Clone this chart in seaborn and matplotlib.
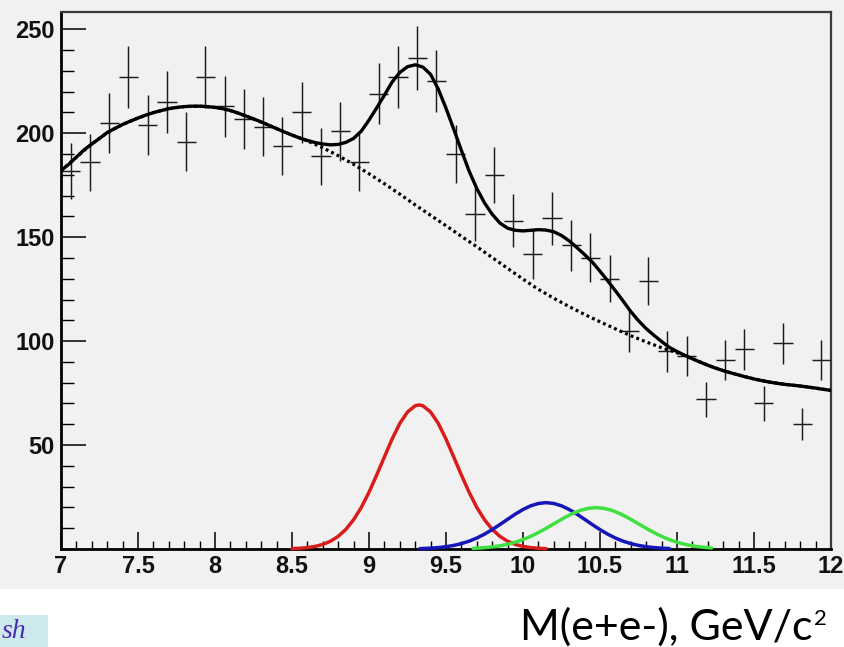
import numpy as np
import matplotlib
matplotlib.use("Agg")
import matplotlib.pyplot as plt
from matplotlib.patches import Rectangle
from matplotlib.ticker import MultipleLocator, FixedLocator
import seaborn as sns

# ---------------- data ----------------
bin_centers = [7.0625, 7.1875, 7.3125, 7.4375, 7.5625, 7.6875, 7.8125, 7.9375,
               8.0625, 8.1875, 8.3125, 8.4375, 8.5625, 8.6875, 8.8125, 8.9375,
               9.0625, 9.1875, 9.3125, 9.4375, 9.5625, 9.6875, 9.8125, 9.9375,
               10.0625, 10.1875, 10.3125, 10.4375, 10.5625, 10.6875, 10.8125, 10.9375,
               11.0625, 11.1875, 11.3125, 11.4375, 11.5625, 11.6875, 11.8125, 11.9375]
counts = [182, 186, 205, 227, 204, 215, 196, 227, 213, 207,
          203, 194, 210, 189, 201, 186, 219, 227, 236, 225,
          190, 161, 180, 158, 142, 159, 146, 140, 130, 105,
          129, 95, 93, 72, 91, 96, 70, 99, 60, 91]
count_err = [13.5, 13.6, 14.3, 15.1, 14.3, 14.7, 14.0, 15.1, 14.6, 14.4,
             14.2, 13.9, 14.5, 13.7, 14.2, 13.6, 14.8, 15.1, 15.4, 15.0,
             13.8, 12.7, 13.4, 12.6, 11.9, 12.6, 12.1, 11.8, 11.4, 10.2,
             11.4, 9.7, 9.6, 8.5, 9.5, 9.8, 8.4, 9.9, 7.7, 9.5]
bin_half_width = 0.0625

total_x = [7.00, 7.05, 7.10, 7.15, 7.20, 7.25, 7.30, 7.35, 7.40, 7.45,
           7.50, 7.55, 7.60, 7.65, 7.70, 7.75, 7.80, 7.85, 7.90, 7.95,
           8.00, 8.05, 8.10, 8.15, 8.20, 8.25, 8.30, 8.35, 8.40, 8.45,
           8.50, 8.55, 8.60, 8.65, 8.70, 8.75, 8.80, 8.85, 8.90, 8.95,
           9.00, 9.05, 9.10, 9.15, 9.20, 9.25, 9.30, 9.35, 9.40, 9.45,
           9.50, 9.55, 9.60, 9.65, 9.70, 9.75, 9.80, 9.85, 9.90, 9.95,
           10.00, 10.05, 10.10, 10.15, 10.20, 10.25, 10.30, 10.35, 10.40, 10.45,
           10.50, 10.55, 10.60, 10.65, 10.70, 10.75, 10.80, 10.85, 10.90, 10.95,
           11.00, 11.05, 11.10, 11.15, 11.20, 11.25, 11.30, 11.35, 11.40, 11.45,
           11.50, 11.55, 11.60, 11.65, 11.70, 11.75, 11.80, 11.85, 11.90, 11.95, 12.00]
total_y = [182.0, 185.0, 188.5, 192.0, 194.8, 197.5, 200.3, 202.3, 204.2, 205.8,
           207.3, 208.7, 209.9, 210.9, 211.8, 212.4, 212.8, 213.0, 213.0, 212.8,
           212.4, 211.8, 210.9, 209.7, 208.3, 206.9, 205.4, 203.8, 202.2, 200.6,
           199.1, 197.7, 196.5, 195.5, 194.8, 194.4, 194.6, 195.6, 197.5, 201.0,
           206.3, 212.2, 218.3, 224.6, 229.2, 232.0, 232.9, 231.8, 228.3, 221.2,
           212.0, 202.0, 191.7, 181.8, 173.4, 166.5, 161.0, 156.8, 154.3, 153.3,
           153.0, 153.3, 153.6, 153.4, 152.6, 150.8, 148.2, 145.0, 141.6, 138.0,
           133.6, 129.0, 124.2, 119.3, 114.2, 109.8, 106.0, 102.8, 99.8, 97.0,
           95.0, 93.2, 91.5, 89.9, 88.4, 87.0, 85.8, 84.7, 83.7, 82.7,
           81.8, 81.0, 80.3, 79.7, 79.2, 78.8, 78.4, 77.9, 77.4, 76.8, 76.3]

bkg_x = [7.0, 7.1, 7.2, 7.3, 7.4, 7.5, 7.6, 7.7, 7.8, 7.9,
         8.0, 8.1, 8.2, 8.3, 8.4, 8.5, 8.6, 8.7, 8.8, 8.9,
         9.0, 9.1, 9.2, 9.3, 9.4, 9.5, 9.6, 9.7, 9.8, 9.9,
         10.0, 10.1, 10.2, 10.3, 10.4, 10.5, 10.6, 10.7, 10.8, 10.9,
         11.0, 11.1, 11.2, 11.3, 11.4, 11.5, 11.6, 11.7, 11.8, 11.9, 12.0]
bkg_y = [182.0, 188.5, 194.8, 200.3, 204.2, 207.3, 209.9, 211.8, 212.8, 213.0,
         212.4, 210.9, 208.3, 205.4, 202.2, 199.1, 196.3, 193.0, 189.2, 185.0,
         180.5, 175.7, 170.7, 165.5, 160.5, 155.5, 150.4, 145.4, 140.2, 135.0,
         129.8, 124.9, 120.6, 116.6, 112.8, 109.3, 105.9, 102.6, 99.6, 96.8,
         94.4, 91.5, 88.4, 85.8, 83.7, 81.8, 80.3, 79.2, 78.4, 77.4, 76.3]

red_x = [8.50, 8.55, 8.60, 8.65, 8.70, 8.75, 8.80, 8.85, 8.90, 8.95,
         9.00, 9.05, 9.10, 9.15, 9.20, 9.25, 9.30, 9.325, 9.35, 9.40,
         9.45, 9.50, 9.55, 9.60, 9.65, 9.70, 9.75, 9.80, 9.85, 9.90,
         9.95, 10.00, 10.05, 10.10, 10.15]
red_y = [0.17, 0.35, 0.67, 1.24, 2.20, 3.74, 6.08, 9.47, 14.1, 20.0,
         27.3, 35.6, 44.3, 52.9, 60.4, 65.9, 68.9, 69.3, 68.9, 65.9,
         60.4, 52.9, 44.3, 35.6, 27.3, 20.0, 14.1, 9.47, 6.08, 3.74,
         2.20, 1.24, 0.67, 0.35, 0.17]

blue_x = [9.33, 9.35, 9.40, 9.45, 9.50, 9.55, 9.60, 9.65, 9.70, 9.75, 9.80,
          9.85, 9.90, 9.95, 10.00, 10.05, 10.10, 10.15, 10.20, 10.25, 10.30,
          10.35, 10.40, 10.45, 10.50, 10.55, 10.60, 10.65, 10.70, 10.75, 10.80,
          10.85, 10.90, 10.95]
blue_y = [0.19, 0.23, 0.41, 0.68, 1.10, 1.72, 2.59, 3.76, 5.27, 7.14, 9.32,
          11.75, 14.29, 16.77, 19.0, 20.77, 21.9, 22.3, 21.9, 20.77, 19.0,
          16.77, 14.29, 11.75, 9.32, 7.14, 5.27, 3.76, 2.59, 1.72, 1.10,
          0.68, 0.41, 0.23]

green_x = [9.675, 9.725, 9.775, 9.825, 9.875, 9.925, 9.975, 10.025, 10.075, 10.125,
           10.175, 10.225, 10.275, 10.325, 10.375, 10.425, 10.475, 10.525, 10.575,
           10.625, 10.675, 10.725, 10.775, 10.825, 10.875, 10.925, 10.975, 11.025,
           11.075, 11.125, 11.175, 11.225]
green_y = [0.30, 0.50, 0.80, 1.24, 1.87, 2.73, 3.86, 5.27, 6.96, 8.91,
           11.02, 13.20, 15.30, 17.17, 18.64, 19.58, 19.9, 19.58, 18.64,
           17.17, 15.30, 13.20, 11.02, 8.91, 6.96, 5.27, 3.86, 2.73,
           1.87, 1.24, 0.80, 0.50]

x_major = [7, 7.5, 8, 8.5, 9, 9.5, 10, 10.5, 11, 11.5, 12]
x_labels = ["7", "7.5", "8", "8.5", "9", "9.5", "10", "10.5", "11", "11.5", "12"]
y_major = [50, 100, 150, 200, 250]
y_labels = ["50", "100", "150", "200", "250"]
axis_title = "M(e+e-), GeV/c"
axis_title_sup = "2"
logo_text = "sh"

# ---------------- figure ----------------
sns.set_style("ticks")
plt.rcParams["font.family"] = ["Liberation Sans", "DejaVu Sans"]

W, H = 845, 647
fig = plt.figure(figsize=(W / 100, H / 100), dpi=100)
fig.patch.set_facecolor("white")
panel_bg = "#f1f1f1"
fig.patches.append(Rectangle((0, 1 - 589 / H), 1, 589 / H, transform=fig.transFigure,
                             facecolor=panel_bg, edgecolor="none", zorder=-10))

ax = fig.add_axes([61 / W, 1 - 549 / H, (831 - 61) / W, (549 - 12) / H])
ax.set_facecolor(panel_bg)

# data crosses
ax.errorbar(bin_centers, counts, xerr=bin_half_width, yerr=count_err, fmt="none",
            ecolor="#1c1c1c", elinewidth=1.05, capsize=0, zorder=3)

# curves
sns.lineplot(x=total_x, y=total_y, ax=ax, color="black", linewidth=2.4,
             estimator=None, sort=False, zorder=4)
sns.lineplot(x=bkg_x, y=bkg_y, ax=ax, color="black", linewidth=2.3,
             linestyle=(0, (0.9, 1.0)), estimator=None, sort=False, zorder=4)
for gx, gy, col in [(red_x, red_y, "#d91c1c"), (blue_x, blue_y, "#1616b8"),
                    (green_x, green_y, "#3fe03f")]:
    sns.lineplot(x=gx, y=gy, ax=ax, color=col, linewidth=2.5,
                 estimator=None, sort=False, zorder=5, clip_on=False)

ax.set_xlim(7, 12)
ax.set_ylim(0, 258.3)
ax.set_xlabel("")
ax.set_ylabel("")

ax.xaxis.set_major_locator(FixedLocator(x_major))
ax.set_xticklabels(x_labels)
ax.xaxis.set_minor_locator(MultipleLocator(0.1))
ax.yaxis.set_major_locator(FixedLocator(y_major))
ax.set_yticklabels(y_labels)
ax.yaxis.set_minor_locator(MultipleLocator(10))

ax.tick_params(axis="both", which="both", direction="in", color="black",
               top=False, right=False)
ax.tick_params(axis="x", which="major", length=12.5, width=1.1, pad=4,
               labelsize=17)
ax.tick_params(axis="x", which="minor", length=6, width=1.0)
ax.tick_params(axis="y", which="major", length=18, width=1.1, pad=4.5,
               labelsize=17)
ax.tick_params(axis="y", which="minor", length=9.5, width=1.0)
for lab in ax.get_xticklabels() + ax.get_yticklabels():
    lab.set_fontweight("bold")
    lab.set_color("#111111")

for side in ["left", "bottom"]:
    ax.spines[side].set_color("black")
    ax.spines[side].set_linewidth(2.0)
for side in ["top", "right"]:
    ax.spines[side].set_visible(True)
    ax.spines[side].set_color("#3a3a3a")
    ax.spines[side].set_linewidth(1.6)

# axis title below the panel, with a separate raised superscript
renderer = fig.canvas.get_renderer()
title_txt = fig.text(520 / W, 1 - 640 / H, axis_title, ha="left", va="baseline",
                     fontsize=30, family=["Lato", "DejaVu Sans"], color="black")
bb = title_txt.get_window_extent(renderer=renderer)
target_w = 813 - 520
title_txt.set_fontsize(30 * target_w / bb.width)
bb = title_txt.get_window_extent(renderer=renderer)
fig.text((bb.x1 + 2) / W, 1 - 625 / H, axis_title_sup, ha="left", va="baseline",
         fontsize=16, family=["Lato", "DejaVu Sans"], color="black")

# partially visible logo at the bottom-left
fig.patches.append(Rectangle((0, 0), 48 / W, 32 / H, transform=fig.transFigure,
                             facecolor="#cde9ee", edgecolor="none", zorder=-5))
fig.text(2 / W, 1 - 638 / H, logo_text, ha="left", va="baseline", fontsize=20,
         family=["Liberation Serif", "DejaVu Serif"], style="italic",
         color="#4a2cb2")

fig.savefig("out.png", dpi=100, facecolor="white")
